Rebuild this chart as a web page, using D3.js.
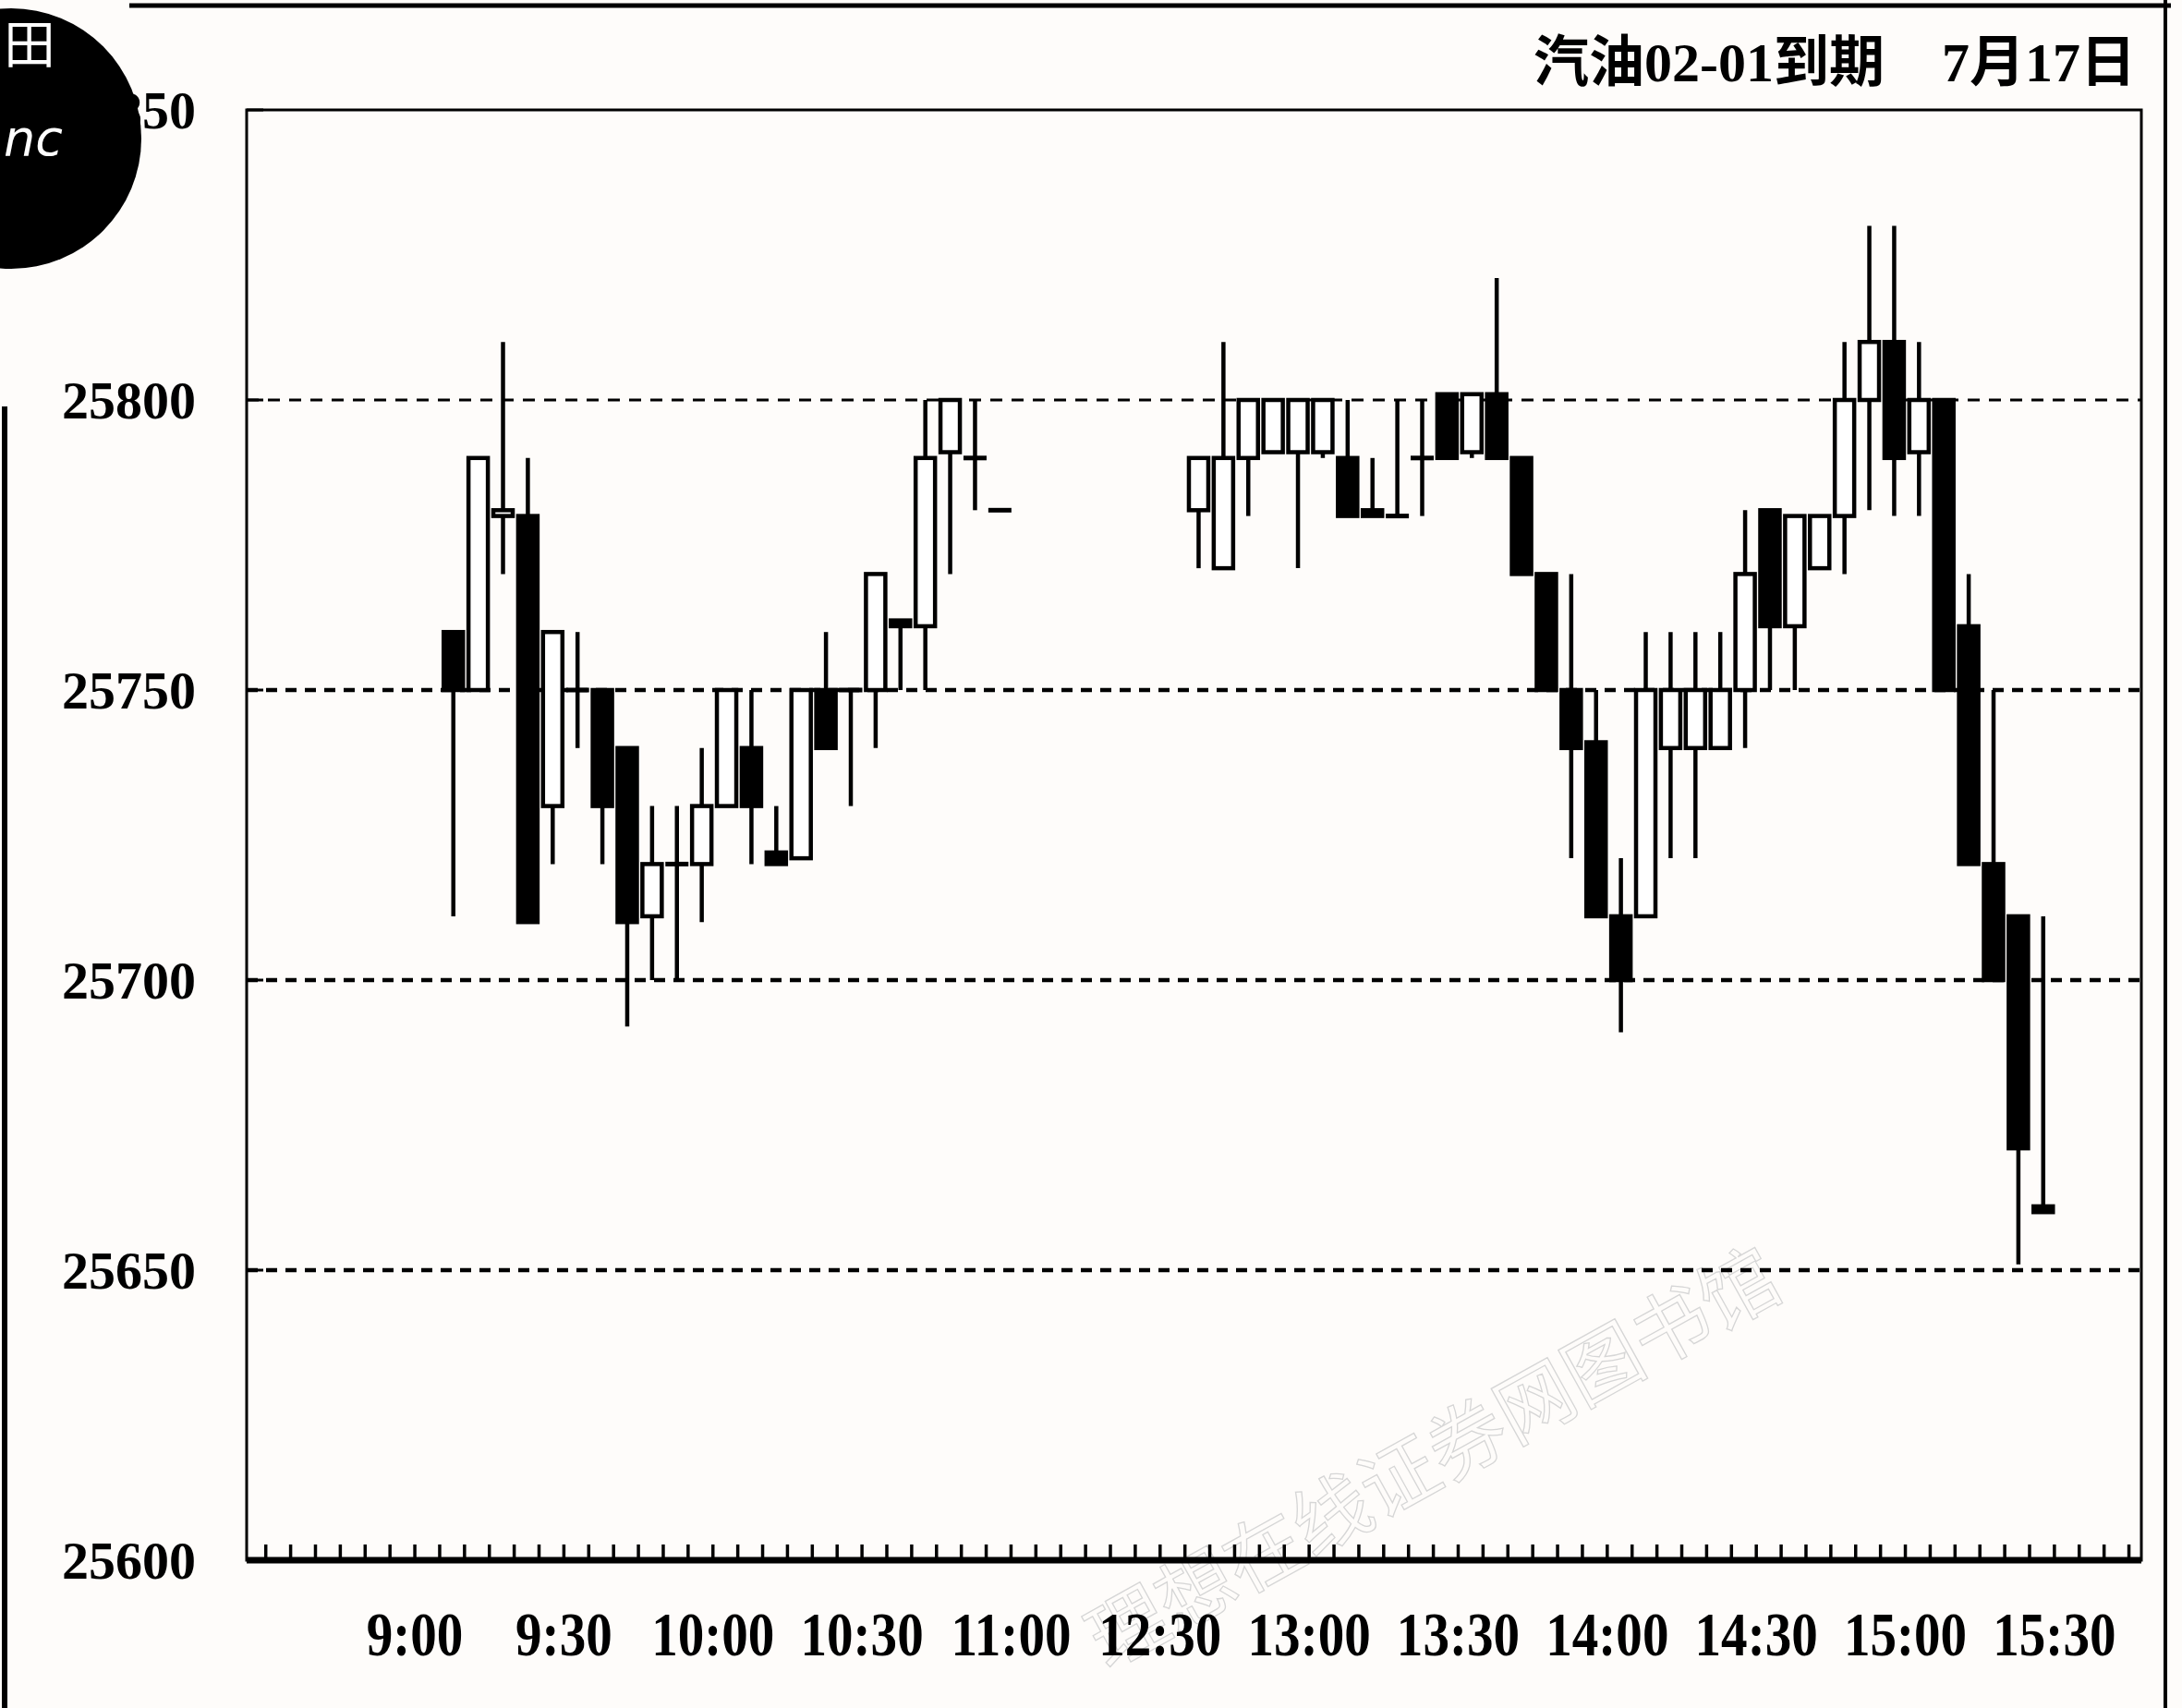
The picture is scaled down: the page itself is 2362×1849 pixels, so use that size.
<!DOCTYPE html>
<html>
<head>
<meta charset="utf-8">
<script src="https://cdn.jsdelivr.net/npm/d3@7"></script>
<style>
  html, body { margin: 0; padding: 0; background: #fefcfa; }
  svg { display: block; }
  text { font-family: "Liberation Serif", "Noto Sans CJK SC", serif; fill: #000; }
</style>
</head>
<body>
<svg id="chart" width="2362" height="1849"></svg>
<script>
// ---------------- data ----------------
const times = [
  "9:05","9:10","9:15","9:20","9:25","9:30","9:35","9:40","9:45","9:50","9:55",
  "10:00","10:05","10:10","10:15","10:20","10:25","10:30","10:35","10:40","10:45","10:50","10:55",
  "12:35","12:40","12:45","12:50","12:55","13:00","13:05","13:10","13:15","13:20","13:25",
  "13:30","13:35","13:40","13:45","13:50","13:55","14:00","14:05","14:10","14:15","14:20","14:25",
  "14:30","14:35","14:40","14:45","14:50","14:55","15:00","15:05","15:10","15:15","15:20","15:25"
];
const openPrices = [
  25760,25750,25780,25780,25730,25750,25750,25740,25711,25720,25720,25730,25740,25722,25721,25750,25750,25750,25762,25761,25791,25790,25781,
  25781,25771,25790,25791,25791,25791,25790,25781,25780,25790,25801,25791,25801,25790,25770,25750,25741,25711,25711,25740,25740,25740,25750,25781,25761,25771,25780,25800,25810,25791,25800,25761,25720,25711,25661
];
const highPrices = [
  25760,25790,25810,25790,25760,25760,25750,25740,25730,25730,25740,25750,25750,25730,25750,25760,25750,25770,25762,25800,25800,25800,25781,
  25790,25810,25800,25800,25800,25800,25800,25790,25800,25800,25801,25801,25821,25790,25770,25770,25750,25721,25760,25760,25760,25760,25781,25781,25780,25780,25810,25830,25830,25810,25800,25770,25750,25711,25711
];
const lowPrices = [
  25711,25750,25770,25710,25720,25740,25720,25692,25700,25700,25710,25730,25720,25720,25721,25740,25730,25740,25750,25750,25770,25781,25781,
  25771,25771,25780,25791,25771,25790,25780,25780,25780,25780,25790,25790,25790,25770,25750,25721,25711,25691,25711,25721,25721,25740,25740,25750,25750,25771,25770,25781,25780,25780,25750,25720,25700,25651,25660
];
const closePrices = [
  25750,25790,25781,25710,25760,25750,25730,25710,25720,25720,25730,25750,25730,25720,25750,25740,25750,25770,25761,25790,25800,25790,25781,
  25790,25790,25800,25800,25800,25800,25780,25780,25780,25790,25790,25801,25790,25770,25750,25740,25711,25700,25750,25750,25750,25750,25770,25761,25780,25780,25800,25810,25790,25800,25750,25720,25700,25671,25660
];
const xTickLabels = ["9:00","9:30","10:00","10:30","11:00","12:30","13:00","13:30","14:00","14:30","15:00","15:30"];
const yTickValues = [25600, 25650, 25700, 25750, 25800, 25850];
const gridValues = [25650, 25700, 25750, 25800];
const titleLeft = "汽油02-01到期";
const titleRight = "7月17日";
const watermark = "理想在线证券网图书馆";

// ---------------- helpers ----------------
// slot position of a clock time: 5-minute slots; 11:00 -> 12:30 shown as one label interval
function slotOf(t) {
  const [h, m] = t.split(":").map(Number);
  const mins = h * 60 + m;
  if (mins < 12 * 60) return (mins - 540) / 5;
  return 30 + (mins - 750) / 5;
}

const svg = d3.select("#chart");
const W = 2362, H = 1849;
const plot = { left: 267, right: 2318, top: 119, bottom: 1689 };

const x = d3.scaleLinear().domain([-6.77, 69.5]).range([plot.left, plot.right]);
const y = d3.scaleLinear().domain([25600, 25850]).range([plot.bottom, plot.top]);

// ---------------- watermark (behind) ----------------
svg.append("text")
  .attr("transform", "translate(1555,1585) rotate(-29)")
  .attr("text-anchor", "middle")
  .attr("dominant-baseline", "middle")
  .style("font-family", "'Noto Sans CJK SC'")
  .style("font-size", "84px")
  .style("fill", "none")
  .style("stroke", "#d6d6d6")
  .style("stroke-width", 1.3)
  .text(watermark);

// ---------------- grid ----------------
svg.append("g").selectAll("line").data(gridValues).join("line")
  .attr("x1", plot.left).attr("x2", plot.right)
  .attr("y1", d => y(d)).attr("y2", d => y(d))
  .attr("stroke", "#000")
  .attr("stroke-width", d => d === 25800 ? 3 : 4.5)
  .attr("stroke-dasharray", d => d === 25800 ? "13,10" : "12,9");

// ---------------- frame ----------------
svg.append("rect")
  .attr("x", plot.left).attr("y", plot.top)
  .attr("width", plot.right - plot.left).attr("height", plot.bottom - plot.top)
  .attr("fill", "none").attr("stroke", "#000").attr("stroke-width", 3);

// y axis ticks (inward)
svg.append("g").selectAll("line").data(yTickValues).join("line")
  .attr("x1", plot.left).attr("x2", plot.left + 18)
  .attr("y1", d => y(d)).attr("y2", d => y(d))
  .attr("stroke", "#000").attr("stroke-width", 3);

// y labels
svg.append("g").selectAll("text").data(yTickValues).join("text")
  .attr("x", 212).attr("y", d => y(d))
  .attr("text-anchor", "end")
  .attr("dominant-baseline", "central")
  .style("font-size", "58px")
  .style("font-weight", "bold")
  .text(d => d);

// bottom axis: thick baseline + dense slot ticks
svg.append("line")
  .attr("x1", plot.left).attr("x2", plot.right)
  .attr("y1", plot.bottom).attr("y2", plot.bottom)
  .attr("stroke", "#000").attr("stroke-width", 7);
svg.append("g").selectAll("line").data(d3.range(-6, 70)).join("line")
  .attr("x1", d => x(d)).attr("x2", d => x(d))
  .attr("y1", plot.bottom).attr("y2", plot.bottom - 17)
  .attr("stroke", "#000").attr("stroke-width", 3.5);

// x labels (condensed serif)
svg.append("g").selectAll("g").data(xTickLabels).join("g")
  .attr("transform", d => `translate(${x(slotOf(d))},1792) scale(0.84,1)`)
  .append("text")
  .attr("text-anchor", "middle")
  .style("font-size", "68px")
  .style("font-weight", "bold")
  .text(d => d);

// ---------------- candles ----------------
const candles = times.map((t, i) => ({
  t, o: openPrices[i], h: highPrices[i], l: lowPrices[i], c: closePrices[i]
}));
const bodyW = 21;
const cg = svg.append("g");
const g = cg.selectAll("g").data(candles).join("g")
  .attr("transform", d => `translate(${x(slotOf(d.t) + 0.55)},0)`);

g.append("line")
  .attr("x1", 0).attr("x2", 0)
  .attr("y1", d => y(d.h)).attr("y2", d => y(d.l))
  .attr("stroke", "#000").attr("stroke-width", 4.5);

g.filter(d => d.o !== d.c).append("rect")
  .attr("x", -bodyW / 2).attr("width", bodyW)
  .attr("y", d => y(Math.max(d.o, d.c)))
  .attr("height", d => Math.abs(y(d.o) - y(d.c)))
  .attr("fill", d => d.c < d.o ? "#000" : "#fff")
  .attr("stroke", "#000").attr("stroke-width", 4.5);

g.filter(d => d.o === d.c).append("line")
  .attr("x1", -bodyW / 2 - 2).attr("x2", bodyW / 2 + 2)
  .attr("y1", d => y(d.o)).attr("y2", d => y(d.o))
  .attr("stroke", "#000").attr("stroke-width", 5);

// ---------------- title ----------------
svg.append("text")
  .attr("x", 2040).attr("y", 88)
  .attr("text-anchor", "end")
  .style("font-size", "60px").style("font-weight", "bold")
  .text(titleLeft);
svg.append("text")
  .attr("x", 2312).attr("y", 88)
  .attr("text-anchor", "end")
  .style("font-size", "60px").style("font-weight", "bold")
  .text(titleRight);

// ---------------- page decorations ----------------
const deco = svg.append("g");
deco.append("line").attr("x1", 140).attr("x2", 2350).attr("y1", 6).attr("y2", 6)
  .attr("stroke", "#000").attr("stroke-width", 5);
deco.append("line").attr("x1", 2344).attr("x2", 2344).attr("y1", 0).attr("y2", H)
  .attr("stroke", "#000").attr("stroke-width", 4);
deco.append("line").attr("x1", 5).attr("x2", 5).attr("y1", 440).attr("y2", H)
  .attr("stroke", "#000").attr("stroke-width", 6);
deco.append("circle").attr("cx", 12).attr("cy", 150).attr("r", 141).attr("fill", "#000");
deco.append("text").attr("x", 4).attr("y", 68)
  .style("font-family", "'Noto Sans CJK SC'").style("font-size", "56px").style("fill", "#fff")
  .text("田");
deco.append("text").attr("x", 4).attr("y", 168)
  .style("font-family", "'DejaVu Sans'").style("font-style", "italic").style("font-size", "54px").style("fill", "#fff")
  .text("nc");
</script>
</body>
</html>
